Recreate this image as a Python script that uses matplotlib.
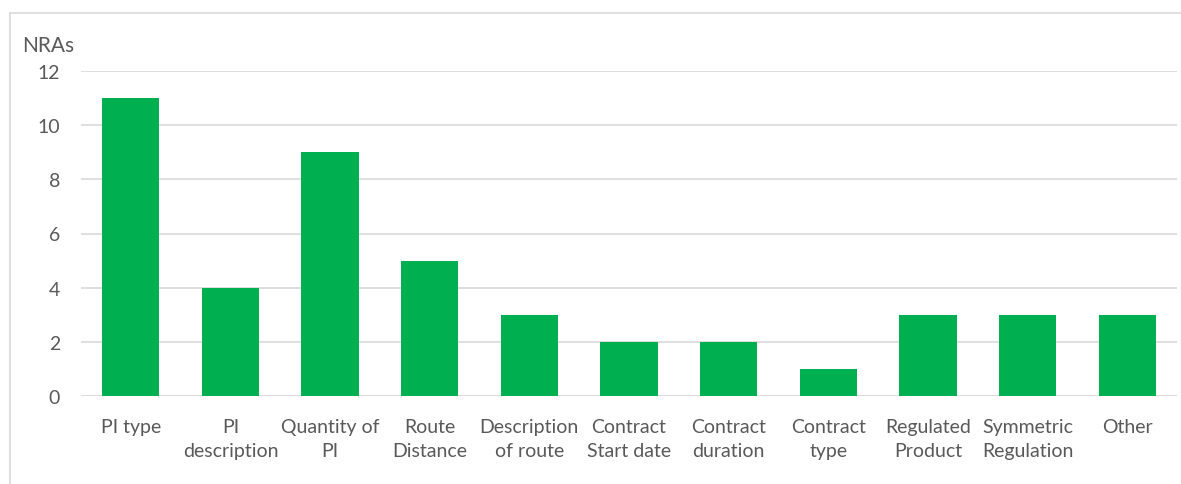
import numpy as np
import matplotlib.pyplot as plt
from matplotlib.lines import Line2D

# NRAs per field category
categories = ["PI type", "PI\ndescription", "Quantity of\nPI", "Route\nDistance",
              "Description\nof route", "Contract\nStart date", "Contract\nduration",
              "Contract\ntype", "Regulated\nProduct", "Symmetric\nRegulation", "Other"]
nras = [11, 4, 9, 5, 3, 2, 2, 1, 3, 3, 3]
yticks = [0, 2, 4, 6, 8, 10, 12]

grey = "#595959"
grid = "#d9d9d9"

plt.rcParams['font.family'] = ['Lato', 'DejaVu Sans']

fig = plt.figure(figsize=(11.81, 4.85), dpi=100)
ax = fig.add_axes([81/1181, 1 - 397/485, 1096/1181, 325/485])

x = np.arange(len(categories))
ax.bar(x, nras, width=0.575, color="#00b050", zorder=3)

ax.set_xlim(-0.5, len(categories) - 0.5)
ax.set_ylim(0, 12)
ax.set_yticks(yticks)
ax.set_xticks(x)
ax.set_xticklabels(categories, fontsize=14, color=grey, linespacing=1.48)
ax.tick_params(axis='y', labelsize=14, labelcolor=grey, length=0, pad=15)
ax.tick_params(axis='x', length=0, pad=16)
for t in ax.get_xticklabels():
    t.set_verticalalignment('top')

ax.grid(axis='y', color=grid, linewidth=1.2, zorder=0)
for s in ax.spines.values():
    s.set_visible(False)
ax.axhline(0, color=grid, linewidth=1.2, zorder=2)

fig.text(22/1181, 1 - 46/485, "NRAs", fontsize=15, color=grey, va='center', ha='left')

# chart frame (only top and left edges fall inside the image)
fx, fy = 10/1181, 1 - 14/485
fig.add_artist(Line2D([fx, fx], [0, fy], color=grid, linewidth=1.2, transform=fig.transFigure))
fig.add_artist(Line2D([fx, 1], [fy, fy], color=grid, linewidth=1.2, transform=fig.transFigure))

fig.savefig("out.png", dpi=100)
